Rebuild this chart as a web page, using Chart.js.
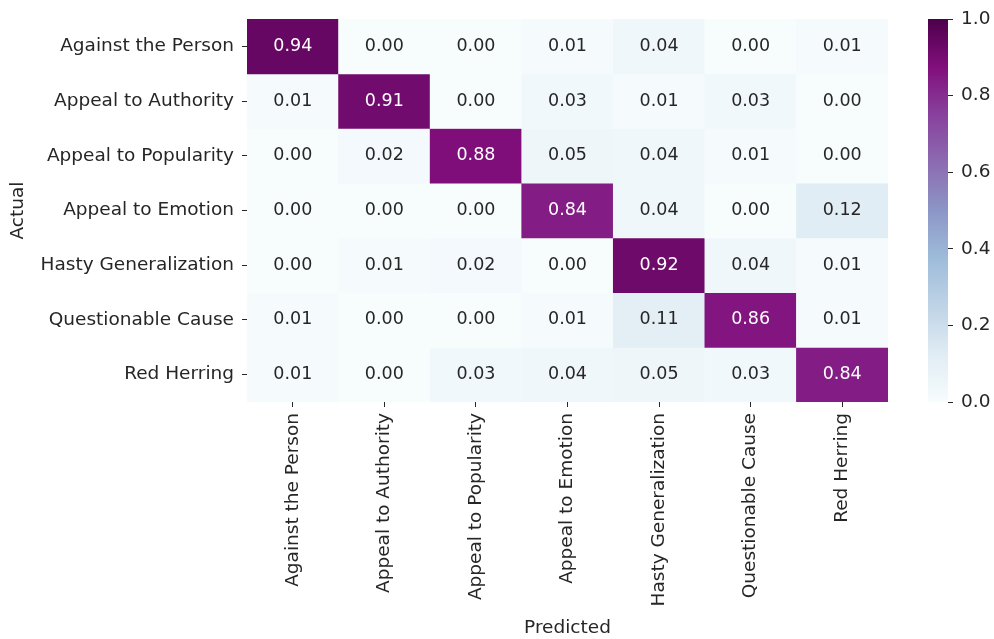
<!DOCTYPE html>
<html>
<head>
<meta charset="utf-8">
<title>Confusion matrix</title>
<script src="https://cdn.jsdelivr.net/npm/chart.js@4.4.0/dist/chart.umd.min.js"></script>
<style>
    body { margin: 0; background: #fff; }
    #wrap { position: relative; width: 994px; height: 639px; }
    #matrix { position: absolute; left: 0; top: 0; }
    #cbar { position: absolute; left: 900px; top: 0; }
</style>
</head>
<body>
<div id="wrap">
    <canvas id="matrix" width="994" height="639"></canvas>
    <canvas id="cbar" width="94" height="639"></canvas>
</div>
<script>
// class names (same order for rows and columns)
const classes = [
    'Against the Person',
    'Appeal to Authority',
    'Appeal to Popularity',
    'Appeal to Emotion',
    'Hasty Generalization',
    'Questionable Cause',
    'Red Herring'
];

// one row per actual class, columns = predicted class
const againstThePerson    = [0.94, 0.00, 0.00, 0.01, 0.04, 0.00, 0.01];
const appealToAuthority   = [0.01, 0.91, 0.00, 0.03, 0.01, 0.03, 0.00];
const appealToPopularity  = [0.00, 0.02, 0.88, 0.05, 0.04, 0.01, 0.00];
const appealToEmotion     = [0.00, 0.00, 0.00, 0.84, 0.04, 0.00, 0.12];
const hastyGeneralization = [0.00, 0.01, 0.02, 0.00, 0.92, 0.04, 0.01];
const questionableCause   = [0.01, 0.00, 0.00, 0.01, 0.11, 0.86, 0.01];
const redHerring          = [0.01, 0.00, 0.03, 0.04, 0.05, 0.03, 0.84];

const rows = [againstThePerson, appealToAuthority, appealToPopularity, appealToEmotion,
              hastyGeneralization, questionableCause, redHerring];

const colorbarTicks = [0, 0.2, 0.4, 0.6, 0.8, 1.0];

// matplotlib BuPu
const BUPU = ['#f7fcfd', '#e0ecf4', '#bfd3e6', '#9ebcda', '#8c96c6',
              '#8c6bb1', '#88419d', '#810f7c', '#4d004b'];

const FONT = 'DejaVu Sans';
const LABEL_SIZE = 18.5;
const CELL_SIZE = 17.5;
const DARK = '#262626';

function hexToRgb(h) {
    return [1, 3, 5].map(i => parseInt(h.substr(i, 2), 16));
}

function bupu(v) {
    v = Math.max(0, Math.min(1, v));
    const pos = v * (BUPU.length - 1);
    const i = Math.min(Math.floor(pos), BUPU.length - 2);
    const t = pos - i;
    const a = hexToRgb(BUPU[i]);
    const b = hexToRgb(BUPU[i + 1]);
    return a.map((c, k) => Math.round(c + (b[k] - c) * t));
}

// seaborn picks white text on dark cells
function luminance(rgb) {
    const lin = rgb.map(c => {
        c = c / 255;
        return c <= 0.03928 ? c / 12.92 : Math.pow((c + 0.055) / 1.055, 2.4);
    });
    return 0.2126 * lin[0] + 0.7152 * lin[1] + 0.0722 * lin[2];
}

const rgbStr = c => `rgb(${c[0]},${c[1]},${c[2]})`;

// each actual row becomes one dataset of floating bars spanning [r, r+1]
const datasets = rows.map((vals, r) => ({
    label: classes[r],
    data: vals.map(() => [r, r + 1]),
    values: vals,
    backgroundColor: vals.map(v => rgbStr(bupu(v))),
    borderWidth: 0,
    grouped: false,
    barPercentage: 1,
    categoryPercentage: 1
}));

const cellLabels = {
    id: 'cellLabels',
    afterDatasetsDraw(chart) {
        const ctx = chart.ctx;
        ctx.save();
        ctx.font = `${CELL_SIZE}px "${FONT}"`;
        ctx.textAlign = 'center';
        ctx.textBaseline = 'middle';
        chart.data.datasets.forEach((ds, di) => {
            chart.getDatasetMeta(di).data.forEach((bar, i) => {
                const v = ds.values[i];
                ctx.fillStyle = luminance(bupu(v)) > 0.408 ? DARK : '#ffffff';
                ctx.fillText(v.toFixed(2), bar.x, (bar.y + bar.base) / 2);
            });
        });
        ctx.restore();
    }
};

Chart.defaults.font.family = FONT;
Chart.defaults.font.size = LABEL_SIZE;
Chart.defaults.color = DARK;

new Chart(document.getElementById('matrix'), {
    type: 'bar',
    data: { labels: classes, datasets: datasets },
    plugins: [cellLabels],
    options: {
        responsive: false,
        animation: false,
        layout: { padding: { left: 0, top: 13, right: 106, bottom: 0 } },
        plugins: { legend: { display: false }, tooltip: { enabled: false } },
        scales: {
            x: {
                grid: { offset: false, drawOnChartArea: false, drawTicks: true, tickLength: 5, color: DARK },
                border: { display: false },
                ticks: { minRotation: 90, maxRotation: 90, padding: 6, color: DARK, autoSkip: false },
                title: { display: true, text: 'Predicted', padding: { top: 0, bottom: 0 } },
                afterFit(scale) { scale.height = 237; }
            },
            y: {
                type: 'linear',
                min: 0,
                max: 7,
                reverse: true,
                grid: { drawOnChartArea: false, drawTicks: true, tickLength: 5, color: DARK },
                border: { display: false },
                afterBuildTicks(scale) {
                    scale.ticks = classes.map((_, i) => ({ value: i + 0.5 }));
                },
                ticks: {
                    padding: 8,
                    color: DARK,
                    autoSkip: false,
                    callback: (v, i) => classes[i]
                },
                title: { display: true, text: 'Actual', padding: { top: 7, bottom: 0 } },
                afterFit(scale) { scale.width = 247; }
            }
        }
    }
});

// colorbar
function gradientFill(context) {
    const area = context.chart.chartArea;
    if (!area) return BUPU[0];
    const g = context.chart.ctx.createLinearGradient(0, area.bottom, 0, area.top);
    BUPU.forEach((c, i) => g.addColorStop(i / (BUPU.length - 1), c));
    return g;
}

new Chart(document.getElementById('cbar'), {
    type: 'bar',
    data: {
        labels: [''],
        datasets: [{ data: [[0, 1]], backgroundColor: gradientFill, borderWidth: 0, barPercentage: 1, categoryPercentage: 1 }]
    },
    options: {
        responsive: false,
        animation: false,
        layout: { padding: { left: 28, top: 13, right: 0, bottom: 237 } },
        plugins: { legend: { display: false }, tooltip: { enabled: false } },
        scales: {
            x: { display: false },
            y: {
                position: 'right',
                min: 0,
                max: 1,
                grid: { drawOnChartArea: false, drawTicks: true, tickLength: 5, color: DARK },
                border: { display: false },
                afterBuildTicks(scale) {
                    scale.ticks = colorbarTicks.map(v => ({ value: v }));
                },
                ticks: { padding: 8, color: DARK, callback: v => v.toFixed(1) },
                afterFit(scale) { scale.width = 46; }
            }
        }
    }
});
</script>
</body>
</html>
